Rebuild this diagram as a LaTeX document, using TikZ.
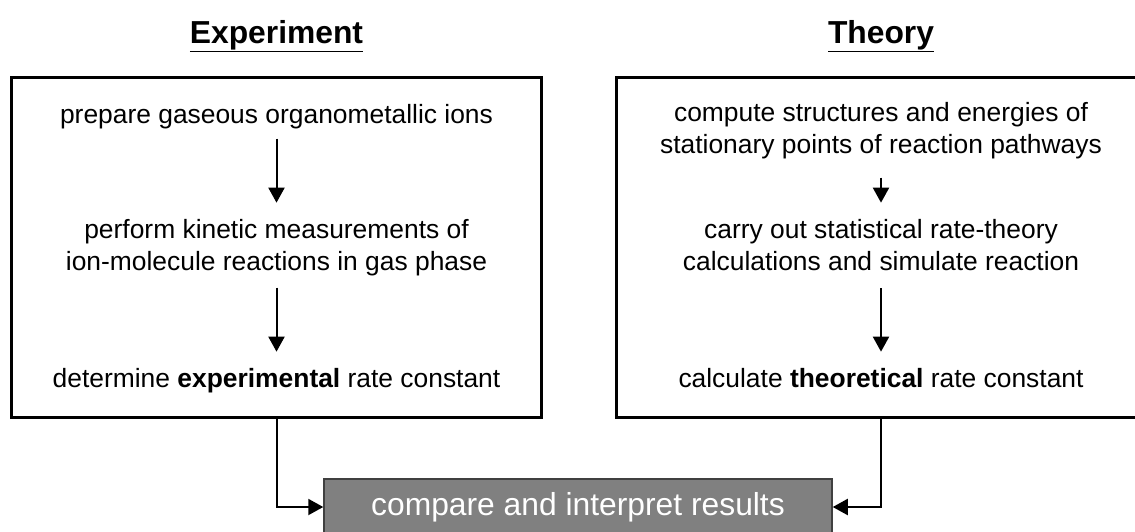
\documentclass[tikz,border=0pt]{standalone}
\usepackage{fontspec}
\setmainfont{Liberation Sans}
\usepackage{tikz}
\usetikzlibrary{arrows.meta, positioning, calc}

\definecolor{resultgray}{RGB}{128,128,128}

\begin{document}
\begin{tikzpicture}[x=1pt, y=-1pt,
    % --- STYLES ---
    heading/.style={font=\fontsize{31.8}{38}\selectfont\bfseries, inner sep=0pt, anchor=base},
    panel/.style={draw, line width=3pt, minimum width=530pt, minimum height=340pt, inner sep=0pt},
    stepbox/.style={align=center, font=\fontsize{26.4}{32}\selectfont, inner sep=0pt, anchor=base},
    result/.style={draw=black!75, line width=1.5pt, fill=resultgray, text=white, font=\fontsize{31.8}{38}\selectfont, minimum width=508pt, minimum height=56pt, inner sep=0pt},
    arrow/.style={-{Triangle[length=15pt, width=16pt]}, line width=2pt, color=black}
]

    % page frame (right panel runs off the edge)
    \useasboundingbox (0,0) rectangle (1135,531);
    \clip (0,0) rectangle (1135,531);

    % ==========================================
    % PANELS AND HEADINGS
    % ==========================================
    \node[panel] (expbox) at (276.5,247) {};
    \node[panel] (thybox) at (881,247) {};

    \node[heading] (exptitle) at (expbox.north |- 0,43) {\underline{Experiment}};
    \node[heading] (thytitle) at (thybox.north |- 0,43) {\underline{Theory}};

    % ==========================================
    % EXPERIMENT (left)
    % ==========================================
    % two-line nodes sit on the baseline of their last line
    \node[stepbox] (prep) at (276.5,123) {prepare gaseous organometallic ions};
    \node[stepbox] (kinetic) at (276.5,270) {perform kinetic measurements of\\ion-molecule reactions in gas phase};
    \node[stepbox] (expk) at (276.5,387) {determine \textbf{experimental} rate constant};

    \draw[arrow, shorten <=10pt, shorten >=16pt] (prep) -- (kinetic);
    \draw[arrow, shorten <=12pt, shorten >=16pt] (kinetic) -- (expk);

    % ==========================================
    % THEORY (right)
    % ==========================================
    \node[stepbox] (struct) at (881,153) {compute structures and energies of\\stationary points of reaction pathways};
    \node[stepbox] (ratecalc) at (881,270) {carry out statistical rate-theory\\calculations and simulate reaction};
    \node[stepbox] (thyk) at (881,387) {calculate \textbf{theoretical} rate constant};

    \draw[arrow, shorten <=19pt, shorten >=16pt] (struct) -- (ratecalc);
    \draw[arrow, shorten <=18pt, shorten >=16pt] (ratecalc) -- (thyk);

    % ==========================================
    % COMPARISON
    % ==========================================
    \node[result] (compare) at (578,507) {compare and interpret results};

    \draw[arrow] (expbox.south) |- (compare.west);
    \draw[arrow] (thybox.south) |- (compare.east);

\end{tikzpicture}
\end{document}
